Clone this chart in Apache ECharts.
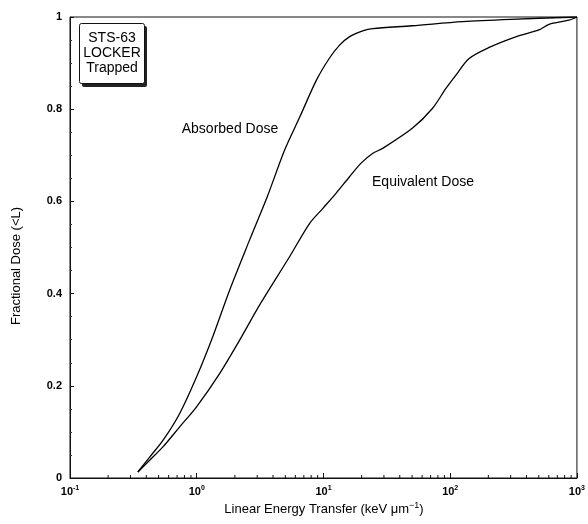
<!DOCTYPE html>
<html>
<head>
<meta charset="utf-8">
<script src="https://cdn.jsdelivr.net/npm/echarts@6/dist/echarts.min.js"></script>
<style>
html,body{margin:0;padding:0;background:#fff;}
#chart{width:588px;height:524px;}
</style>
</head>
<body>
<div id="chart"></div>
<script>
// ---- data ----
const absorbedLET  = [0.343, 0.427, 0.543, 0.734, 1.0, 1.34, 1.82, 2.61, 3.6, 4.93, 6.5, 8.8, 11.1, 13.4, 16, 20.4, 24.5, 50, 125, 300, 1000];
const absorbedFrac = [0.013, 0.046, 0.082, 0.140, 0.220, 0.307, 0.408, 0.516, 0.61, 0.711, 0.783, 0.863, 0.910, 0.939, 0.957, 0.970, 0.975, 0.981, 0.990, 0.995, 1.0];

const equivLET  = [0.343, 0.427, 0.543, 0.734, 1.0, 1.52, 2.18, 3.13, 5.4, 7.76, 9.9, 12.6, 16, 19.8, 24.4, 29.3, 50.5, 72.6, 92.5, 111, 141, 203, 329, 501, 603, 865, 1000];
const equivFrac = [0.013, 0.039, 0.068, 0.111, 0.155, 0.227, 0.299, 0.375, 0.48, 0.552, 0.585, 0.618, 0.653, 0.683, 0.704, 0.715, 0.759, 0.802, 0.845, 0.874, 0.91, 0.934, 0.957, 0.972, 0.984, 0.993, 1.0];

const xDecades = [0.1, 1, 10, 100, 1000];
const yTicks = [0, 0.2, 0.4, 0.6, 0.8, 1];
const seriesNames = ['Absorbed Dose', 'Equivalent Dose'];
const boxLines = ['STS-63', 'LOCKER', 'Trapped'];
const xTitle = 'Linear Energy Transfer (keV μm';
const yTitle = 'Fractional Dose (<L)';

// minor log ticks (2..9 in each decade)
const xMinor = [];
for (let i = 0; i < xDecades.length - 1; i++) {
  for (let m = 2; m <= 9; m++) xMinor.push([xDecades[i] * m, 0]);
}

const zip = (a, b) => a.map((v, i) => [v, b[i]]);
const FONT = '"Liberation Sans", Arial, Helvetica, sans-serif';

const chart = echarts.init(document.getElementById('chart'), null, {renderer: 'canvas'});

const option = {
  backgroundColor: '#fff',
  animation: false,
  grid: {left: 70, right: 10, top: 17, bottom: 46, show: true, borderColor: '#111', borderWidth: 1, backgroundColor: 'transparent'},
  xAxis: {
    type: 'log', logBase: 10, min: xDecades[0], max: xDecades[xDecades.length - 1],
    axisLine: {show: true, lineStyle: {color: '#111', width: 1}},
    axisTick: {show: true, inside: true, length: 5, lineStyle: {color: '#111'}},
    splitLine: {show: false},
    minorTick: {show: false},
    axisLabel: {
      margin: 7,
      formatter: function (v) {
        const e = Math.round(Math.log10(v));
        return '{b|10}{s|' + e + '}';
      },
      rich: {
        b: {fontSize: 11, fontWeight: 'bold', fontFamily: FONT, color: '#000'},
        s: {fontSize: 7, fontWeight: 'bold', fontFamily: FONT, color: '#000', padding: [0, 0, 7, 0]}
      }
    }
  },
  yAxis: {
    type: 'value', min: 0, max: 1, interval: 0.2,
    axisLine: {show: true, lineStyle: {color: '#111', width: 1}},
    axisTick: {show: true, inside: true, length: 4, lineStyle: {color: '#111'}},
    minorTick: {show: true, splitNumber: 4, length: 2, lineStyle: {color: '#333'}},
    splitLine: {show: false},
    axisLabel: {
      margin: 8, fontSize: 11, fontWeight: 'bold', fontFamily: FONT, color: '#000',
      formatter: function (v) { return (v === 0 || v === 1) ? String(v) : v.toFixed(1); }
    }
  },
  series: [
    {
      name: seriesNames[0], type: 'line', data: zip(absorbedLET, absorbedFrac),
      symbol: 'none', smooth: 0.3,
      lineStyle: {color: '#000', width: 1.3}
    },
    {
      name: seriesNames[1], type: 'line', data: zip(equivLET, equivFrac),
      symbol: 'none', smooth: 0.3,
      lineStyle: {color: '#000', width: 1.3}
    },
    {
      type: 'custom', data: xMinor, silent: true, z: 5,
      renderItem: function (params, api) {
        const p = api.coord([api.value(0), 0]);
        return {type: 'line', shape: {x1: p[0], y1: p[1], x2: p[0], y2: p[1] - 3}, style: {stroke: '#111', lineWidth: 1}};
      }
    }
  ],
  graphic: [
    // annotation box with shadow
    {type: 'rect', left: 82, top: 26, shape: {width: 65, height: 61, r: 2}, style: {fill: '#222'}, z: 10},
    {type: 'rect', left: 79, top: 23, shape: {width: 65, height: 60, r: 2}, style: {fill: '#fff', stroke: '#111', lineWidth: 1}, z: 11},
    {type: 'text', x: 112, y: 38, style: {text: boxLines[0], font: '14px ' + FONT, fill: '#000', align: 'center', verticalAlign: 'middle'}, z: 12},
    {type: 'text', x: 112, y: 53, style: {text: boxLines[1], font: '14px ' + FONT, fill: '#000', align: 'center', verticalAlign: 'middle'}, z: 12},
    {type: 'text', x: 112, y: 68, style: {text: boxLines[2], font: '14px ' + FONT, fill: '#000', align: 'center', verticalAlign: 'middle'}, z: 12},
    // curve labels
    {type: 'text', x: 230, y: 129, style: {text: seriesNames[0], font: '14px ' + FONT, fill: '#000', align: 'center', verticalAlign: 'middle'}, z: 12},
    {type: 'text', x: 423, y: 182, style: {text: seriesNames[1], font: '14px ' + FONT, fill: '#000', align: 'center', verticalAlign: 'middle'}, z: 12},
    // axis titles
    {type: 'text', x: 324, y: 509, style: {
      text: '{n|' + xTitle + '}{s|−1}{n|)}', align: 'center', verticalAlign: 'middle',
      rich: {n: {fontSize: 13, fontFamily: FONT, color: '#000'}, s: {fontSize: 9, fontFamily: FONT, color: '#000', padding: [0, 0, 7, 0]}}
    }, z: 12},
    {type: 'text', x: 16, y: 266, rotation: Math.PI / 2, style: {text: yTitle, font: '13px ' + FONT, fill: '#000', align: 'center', verticalAlign: 'middle'}, z: 12}
  ]
};
chart.setOption(option);
</script>
</body>
</html>
